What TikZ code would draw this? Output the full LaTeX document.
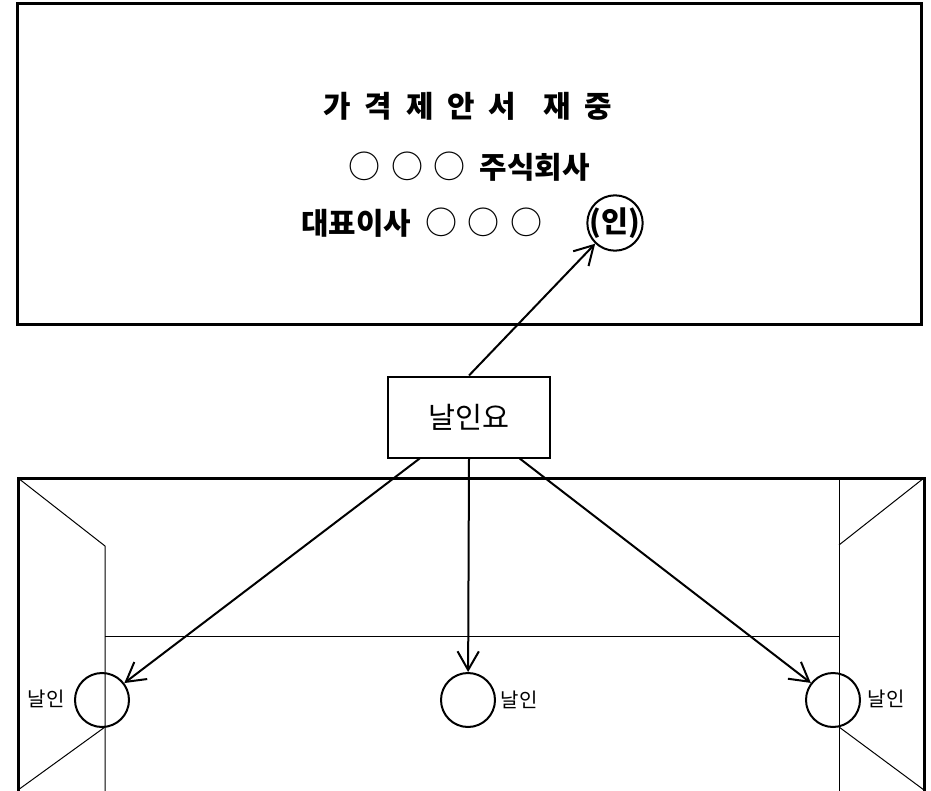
\documentclass[tikz,border=0pt]{standalone}
\usepackage{fontspec}
\setmainfont{Noto Sans CJK KR}
\usetikzlibrary{arrows.meta}

\newcommand{\widesp}{\spaceskip=10.4pt\relax}
\newcommand{\rings}{{\mdseries\fontsize{24}{26}\selectfont\spaceskip=8pt\relax ○ ○ ○}}

\tikzset{
  heavy/.style={line width=2.25},
  thin/.style={line width=0.75},
  seal/.style={circle, draw, line width=1.5, minimum size=40.5pt, inner sep=0pt},
  arr/.style={line width=1.5, -{Straight Barb[length=14pt,width=16pt]}},
  bigtxt/.style={inner sep=0.75pt, font=\fontsize{22.4}{26}\selectfont\bfseries},
  smalltxt/.style={inner sep=0.75pt, font=\fontsize{15}{17}\selectfont}
}

\begin{document}
\begin{tikzpicture}[x=0.75pt,y=0.75pt,yscale=-1,xscale=1]
\useasboundingbox (0,0) rectangle (931,791);

%Shape: Rectangle (letter)
\draw [heavy] (17,4) rectangle (921,325);

% Text Node
\node (title) at (468,106) [bigtxt] {\widesp 가 격 제 안 서 \hspace{10pt}재 중};
% Text Node
\node (firm) at (469,167) [bigtxt] {\widesp\rings{} 주식회사};
% Text Node
\node (ceo) at (300,223) [bigtxt, anchor=west] {\widesp 대표이사 \rings};
% Seal
\node (stamp) at (615,223) [seal, inner sep=-1pt, font=\fontsize{22}{24}\selectfont\bfseries] {(인)};

%Shape: Rectangle (request)
\node (ask) at (469,417) [draw, line width=1.5, minimum width=121.5pt, minimum height=60.75pt, font=\fontsize{22}{24}\selectfont] {날인요};

%Envelope back
\draw [heavy] (18,792) -- (18,478) -- (924,478) -- (924,792);
\draw [thin] (18,478) -- (105,546) -- (105,792);
\draw [thin] (18,790) -- (105,727);
\draw [thin] (105,636) -- (839,636);
\draw [thin] (924,478) -- (839,545);
\draw [thin] (839,478) -- (839,792);
\draw [thin] (839,727) -- (924,790);

% Seal spots
\node (lseal) at (102,700) [seal] {};
\node (mseal) at (468,700) [seal] {};
\node (rseal) at (833,700) [seal] {};

% Text Node
\node (llab) at (46,699) [smalltxt] {날인};
% Text Node
\node (mlab) at (519,700) [smalltxt] {날인};
% Text Node
\node (rlab) at (886,699) [smalltxt] {날인};

%Arrows
\draw [arr] (ask.north) -- (stamp);
\draw [arr] ([xshift=-37pt]ask.south) -- (lseal);
\draw [arr] (ask.south) -- (mseal);
\draw [arr] ([xshift=38pt]ask.south) -- (rseal);

\end{tikzpicture}
\end{document}
